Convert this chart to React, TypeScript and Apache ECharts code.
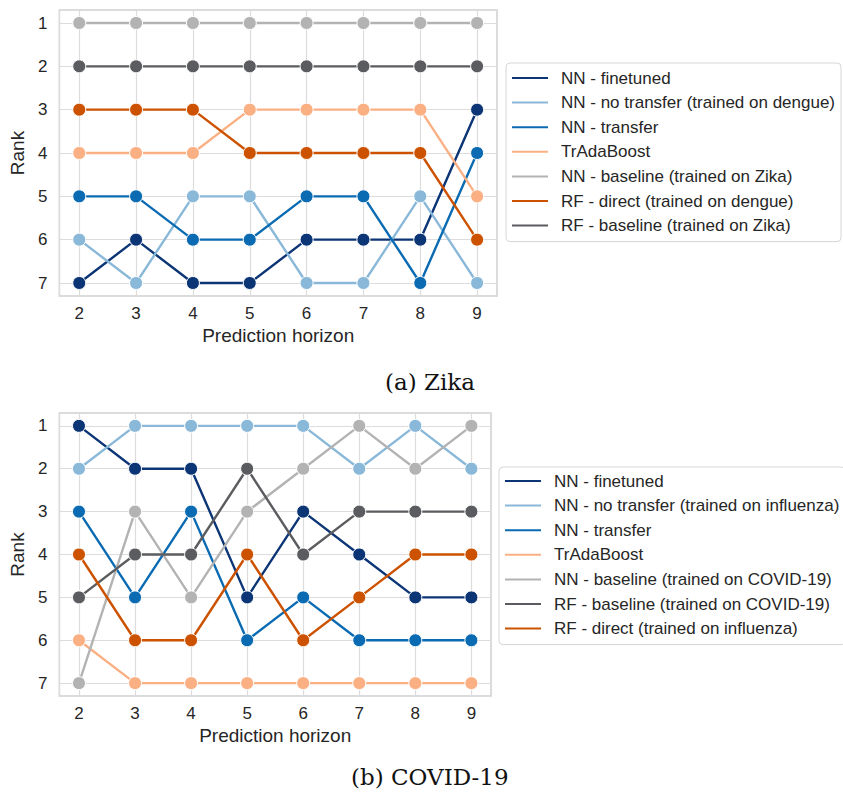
import React, { useEffect, useRef } from "react";
import * as echarts from "echarts";

const horizons = [2, 3, 4, 5, 6, 7, 8, 9];

// Zika (a)
const zikaNames = [
  "NN - finetuned",
  "NN - no transfer (trained on dengue)",
  "NN - transfer",
  "TrAdaBoost",
  "NN - baseline (trained on Zika)",
  "RF - direct (trained on dengue)",
  "RF - baseline (trained on Zika)",
];
const zikaFinetuned = [7, 6, 7, 7, 6, 6, 6, 3];
const zikaNoTransfer = [6, 7, 5, 5, 7, 7, 5, 7];
const zikaTransfer = [5, 5, 6, 6, 5, 5, 7, 4];
const zikaTrAda = [4, 4, 4, 3, 3, 3, 3, 5];
const zikaNNBaseline = [1, 1, 1, 1, 1, 1, 1, 1];
const zikaRFDirect = [3, 3, 3, 4, 4, 4, 4, 6];
const zikaRFBaseline = [2, 2, 2, 2, 2, 2, 2, 2];

// COVID-19 (b)
const covidNames = [
  "NN - finetuned",
  "NN - no transfer (trained on influenza)",
  "NN - transfer",
  "TrAdaBoost",
  "NN - baseline (trained on COVID-19)",
  "RF - baseline (trained on COVID-19)",
  "RF - direct (trained on influenza)",
];
const covidFinetuned = [1, 2, 2, 5, 3, 4, 5, 5];
const covidNoTransfer = [2, 1, 1, 1, 1, 2, 1, 2];
const covidTransfer = [3, 5, 3, 6, 5, 6, 6, 6];
const covidTrAda = [6, 7, 7, 7, 7, 7, 7, 7];
const covidNNBaseline = [7, 3, 5, 3, 2, 1, 2, 1];
const covidRFBaseline = [5, 4, 4, 2, 4, 3, 3, 3];
const covidRFDirect = [4, 6, 6, 4, 6, 5, 4, 4];

const captions = ["(a) Zika", "(b) COVID-19"];

const C_FINETUNED = "#0c3576";
const C_NOTRANSFER = "#8ab8d9";
const C_TRANSFER = "#0a6ab2";
const C_TRADA = "#fbb084";
const C_NNBASE = "#b3b3b3";
const C_RFDIRECT = "#cc5200";
const C_RFBASE = "#5b5c5f";

const zikaColors = [C_FINETUNED, C_NOTRANSFER, C_TRANSFER, C_TRADA, C_NNBASE, C_RFDIRECT, C_RFBASE];
const covidColors = [C_FINETUNED, C_NOTRANSFER, C_TRANSFER, C_TRADA, C_NNBASE, C_RFBASE, C_RFDIRECT];

const zikaValues = [zikaFinetuned, zikaNoTransfer, zikaTransfer, zikaTrAda, zikaNNBaseline, zikaRFDirect, zikaRFBaseline];
const covidValues = [covidFinetuned, covidNoTransfer, covidTransfer, covidTrAda, covidNNBaseline, covidRFBaseline, covidRFDirect];

const SANS = "'Liberation Sans', Arial, Helvetica, sans-serif";
const TXT = "#262626";

export default function App() {
  const ref = useRef<HTMLDivElement>(null);

  useEffect(() => {
    if (!ref.current) return;
    const chart = echarts.init(ref.current, null, { renderer: "svg" });

    const intFmt = (v: number) => (Math.abs(v - Math.round(v)) < 1e-6 ? String(Math.round(v)) : "");

    const mkX = (gi: number) => ({
      type: "value",
      gridIndex: gi,
      min: 1.65,
      max: 9.35,
      minInterval: 1,
      maxInterval: 1,
      axisLine: { show: false },
      axisTick: { show: false },
      splitLine: { show: true, lineStyle: { color: "#dcdcdc", width: 1.2 } },
      axisLabel: { formatter: intFmt, fontSize: 17, color: TXT, margin: 9, fontFamily: SANS },
      name: "Prediction horizon",
      nameLocation: "middle",
      nameGap: 30,
      nameTextStyle: { fontSize: 19, color: TXT, fontFamily: SANS },
    });
    const mkY = (gi: number) => ({
      type: "value",
      gridIndex: gi,
      inverse: true,
      min: 0.7,
      max: 7.3,
      minInterval: 1,
      maxInterval: 1,
      axisLine: { show: false },
      axisTick: { show: false },
      splitLine: { show: true, lineStyle: { color: "#dcdcdc", width: 1.2 } },
      axisLabel: { formatter: intFmt, fontSize: 17, color: TXT, margin: 12, fontFamily: SANS },
      name: "Rank",
      nameLocation: "middle",
      nameGap: 28,
      nameTextStyle: { fontSize: 19, color: TXT, fontFamily: SANS },
    });

    const mkSeries = (names: string[], values: number[][], colors: string[], gi: number) =>
      names.map((n, k) => ({
        type: "line",
        name: n,
        xAxisIndex: gi,
        yAxisIndex: gi,
        data: horizons.map((h, i) => [h, values[k][i]]),
        symbol: "circle",
        symbolSize: 13,
        color: colors[k],
        lineStyle: { width: 2.4, color: colors[k] },
        itemStyle: { color: colors[k], borderColor: "#ffffff", borderWidth: 1 },
        emphasis: { disabled: true },
      }));

    const mkLegend = (names: string[], left: number, top: number, padding: number[]) => ({
      data: names,
      orient: "vertical",
      left,
      top,
      icon: "rect",
      itemWidth: 36,
      itemHeight: 2,
      itemGap: 4.6,
      padding,
      borderColor: "#d6d6d6",
      borderWidth: 1,
      borderRadius: 4,
      backgroundColor: "#ffffff",
      selectedMode: false,
      itemStyle: { borderWidth: 0, borderColor: "transparent" },
      lineStyle: { width: 0 },
      textStyle: { fontSize: 17, color: TXT, fontFamily: SANS, lineHeight: 20, padding: [0, 0, 0, 8] },
    });

    chart.setOption({
      animation: false,
      backgroundColor: "#ffffff",
      grid: [
        { left: 57, top: 10, width: 440, height: 286, show: true, borderColor: "#cfcfcf", borderWidth: 1.5, backgroundColor: "#ffffff" },
        { left: 55, top: 413, width: 436, height: 283, show: true, borderColor: "#cfcfcf", borderWidth: 1.5, backgroundColor: "#ffffff" },
      ],
      xAxis: [mkX(0), mkX(1)],
      yAxis: [mkY(0), mkY(1)],
      legend: [mkLegend(zikaNames, 506, 63, [5, 6, 6, 6]), mkLegend(covidNames, 499, 467, [4, 6, 6, 6])],
      series: [...mkSeries(zikaNames, zikaValues, zikaColors, 0), ...mkSeries(covidNames, covidValues, covidColors, 1)],
      graphic: [
        {
          type: "text",
          left: 430 - 45,
          top: 370,
          style: { text: captions[0], fontSize: 23, fontFamily: "'DejaVu Serif', serif", fill: "#111" },
        },
        {
          type: "text",
          left: 430 - 79,
          top: 765,
          style: { text: captions[1], fontSize: 23, fontFamily: "'DejaVu Serif', serif", fill: "#111" },
        },
      ],
    });

    return () => chart.dispose();
  }, []);

  return <div ref={ref} style={{ position: "absolute", left: 0, top: 0, width: 843, height: 799 }} />;
}
